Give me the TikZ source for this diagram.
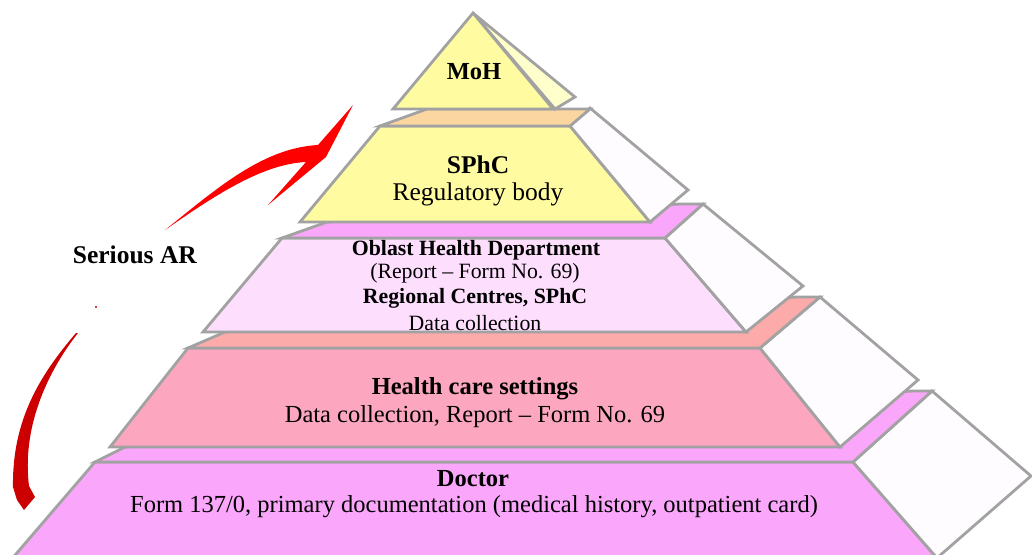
\documentclass[tikz,border=0pt]{standalone}
\usepackage{fontspec}
\setmainfont{Liberation Serif}

\definecolor{edgegray}{RGB}{162,162,162}
\definecolor{tieryellow}{RGB}{255,251,160}
\definecolor{mohside}{RGB}{255,255,204}
\definecolor{peach}{RGB}{252,214,160}
\definecolor{sidewhite}{RGB}{255,252,255}
\definecolor{oblastpink}{RGB}{253,222,253}
\definecolor{magentaslab}{RGB}{250,166,250}
\definecolor{salmonslab}{RGB}{252,170,170}
\definecolor{healthpink}{RGB}{252,166,192}
\definecolor{arrowred}{RGB}{255,0,0}
\definecolor{arrowdark}{RGB}{204,0,0}

\begin{document}
\begin{tikzpicture}[x=1pt,y=-1pt]
\tikzstyle{tierface} = [draw=edgegray, line width=2.8pt, line join=miter]
\tikzstyle{sideface} = [tierface, fill=sidewhite]
\tikzstyle{tiertext} = [inner sep=0pt, font=\fontsize{24.5}{28}\selectfont]
\tikzstyle{smalltext} = [inner sep=0pt, font=\fontsize{21.8}{25}\selectfont]
\tikzstyle{bigtext} = [inner sep=0pt, font=\fontsize{25.5}{30}\selectfont]

\useasboundingbox (0,0) rectangle (1032,554);
\clip (0,0) rectangle (1032,554);

% Doctor
\draw [tierface, fill=magentaslab] (95,462) -- (853,462) -- (937,558) -- (940,575) -- (-2,575) -- cycle;
\draw [sideface] (853,462) -- (932,391) -- (1031,476) -- (937,558) -- cycle;
\draw [tierface, fill=magentaslab] (95,462) -- (853,462) -- (932,391) -- (912,391) -- (125,447) -- cycle;

% Health care settings
\draw [tierface, fill=healthpink] (188,348) -- (760,348) -- (840,447) -- (110,447) -- cycle;
\draw [sideface] (760,348) -- (820,297) -- (918,380) -- (840,447) -- cycle;
\draw [tierface, fill=salmonslab] (188,348) -- (760,348) -- (820,297) -- (797,297) -- (225,332) -- cycle;

% Oblast
\draw [tierface, fill=oblastpink] (282,238) -- (665,238) -- (746,332) -- (203,332) -- cycle;
\draw [sideface] (665,238) -- (703,204) -- (803,286) -- (746,332) -- cycle;
\draw [tierface, fill=magentaslab] (282,238) -- (665,238) -- (703,204) -- (680,204) -- (327,222) -- cycle;

% SPhC
\draw [tierface, fill=tieryellow] (380,126) -- (570,126) -- (650,222) -- (300,222) -- cycle;
\draw [sideface] (570,126) -- (590,108) -- (688,190) -- (650,222) -- cycle;
\draw [tierface, fill=peach] (380,126) -- (570,126) -- (590,109) -- (427,109) -- cycle;

% MoH
\draw [tierface, fill=mohside] (473,13) -- (575,97) -- (555,109) -- cycle;
\draw [tierface, fill=tieryellow] (473,13) -- (553,109) -- (393,109) -- cycle;

% texts
\node (moh) [tiertext] at (474,72) {\textbf{MoH}};
\node (sphc) [bigtext] at (478,165) {\textbf{SPhC}};
\node (regbody) [bigtext] at (478,194) {Regulatory body};
\node (oblast) [smalltext] at (476,250) {\textbf{Oblast Health Department}};
\node (oblastrep) [smalltext] at (475,273) {(Report – Form No. 69)};
\node (regional) [smalltext] at (475,298) {\textbf{Regional Centres, SPhC}};
\node (regdata) [smalltext] at (475,323) {Data collection};
\node (health) [tiertext] at (475,389) {\textbf{Health care settings}};
\node (healthrep) [tiertext] at (475,417) {Data collection, Report – Form No. 69};
\node (doctor) [tiertext] at (473,479) {\textbf{Doctor}};
\node (doctorform) [tiertext] at (474,507) {Form 137/0, primary documentation (medical history, outpatient card)};
\node (serious) [bigtext] at (135,255) {\textbf{Serious AR}};

% red arrows
\fill [arrowred] (165,230) .. controls (215,190) and (262,148) .. (318,145) -- (353,105) -- (326,157) -- (268,205) -- (306,162) .. controls (262,164) and (214,196) .. (165,230) -- cycle;
\fill [arrowdark] (76,333) .. controls (40,375) and (12,420) .. (13,487) -- (17,500) -- (24,510) -- (35,497) -- (29,486) .. controls (22,430) and (45,375) .. (78,333) -- cycle;
\fill [arrowdark] (96,307) circle (1.2);

\end{tikzpicture}
\end{document}
